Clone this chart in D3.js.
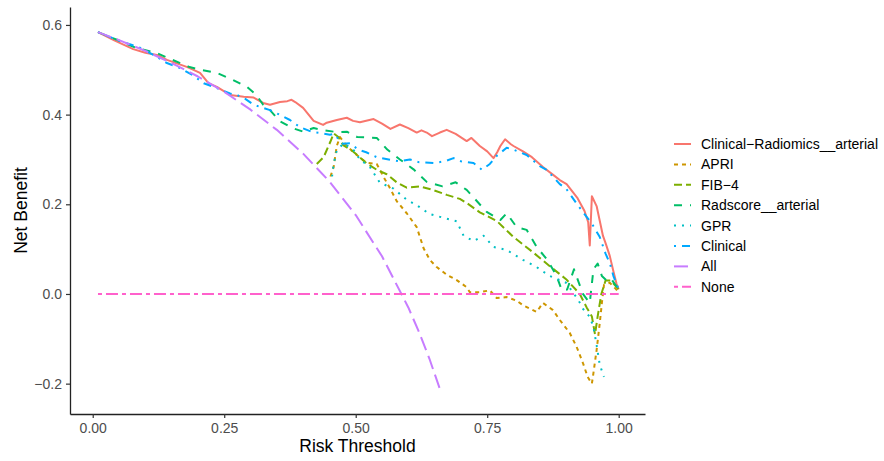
<!DOCTYPE html>
<html>
<head>
<meta charset="utf-8">
<script src="https://cdn.jsdelivr.net/npm/d3@7"></script>
<style>
  html, body { margin: 0; padding: 0; background: #fff; }
  svg { display: block; font-family: "Liberation Sans", Arial, Helvetica, sans-serif; }
</style>
</head>
<body>
<svg id="chart" width="884" height="461"></svg>
<script>
// Decision curve data: [risk threshold, net benefit]
const clinicalRadiomics = [
  [0.01,0.584],[0.04,0.566],[0.077,0.546],[0.10,0.538],[0.122,0.533],[0.141,0.522],[0.18,0.506],
  [0.204,0.493],[0.22,0.47],[0.236,0.462],[0.261,0.444],[0.287,0.44],[0.306,0.438],[0.324,0.426],
  [0.337,0.422],[0.356,0.428],[0.37,0.43],[0.378,0.433],[0.385,0.428],[0.40,0.415],[0.42,0.386],
  [0.438,0.377],[0.445,0.382],[0.464,0.388],[0.483,0.393],[0.495,0.386],[0.508,0.383],[0.534,0.39],
  [0.55,0.38],[0.566,0.368],[0.584,0.378],[0.60,0.37],[0.616,0.36],[0.625,0.365],[0.635,0.36],
  [0.645,0.352],[0.66,0.36],[0.673,0.366],[0.69,0.357],[0.711,0.341],[0.72,0.348],[0.736,0.33],
  [0.75,0.318],[0.762,0.303],[0.769,0.316],[0.775,0.33],[0.784,0.345],[0.795,0.334],[0.80,0.33],
  [0.818,0.318],[0.835,0.305],[0.856,0.283],[0.876,0.265],[0.888,0.254],[0.901,0.245],[0.921,0.215],
  [0.935,0.185],[0.942,0.16],[0.945,0.108],[0.949,0.218],[0.958,0.196],[0.97,0.13],[0.976,0.11],
  [0.983,0.085],[0.99,0.05],[0.996,0.022],[1.0,0.01]
];
const apri = [
  [0.452,0.262],[0.458,0.283],[0.464,0.33],[0.47,0.35],[0.483,0.33],[0.502,0.31],[0.52,0.293],
  [0.54,0.29],[0.553,0.261],[0.566,0.234],[0.578,0.207],[0.597,0.18],[0.616,0.149],[0.629,0.102],
  [0.641,0.076],[0.654,0.06],[0.673,0.043],[0.692,0.031],[0.711,0.015],[0.717,0.004],[0.736,0.004],
  [0.755,0.008],[0.768,-0.009],[0.787,-0.007],[0.806,-0.015],[0.818,-0.025],[0.844,-0.04],
  [0.856,-0.02],[0.875,-0.036],[0.888,-0.058],[0.907,-0.087],[0.92,-0.118],[0.932,-0.154],
  [0.941,-0.185],[0.949,-0.2],[0.952,-0.176],[0.958,-0.125],[0.964,-0.065],[0.968,-0.02],
  [0.972,0.02],[0.983,0.025],[0.993,0.013],[1.0,0.004]
];
const fib4 = [
  [0.426,0.29],[0.439,0.305],[0.452,0.34],[0.458,0.358],[0.467,0.35],[0.476,0.332],[0.495,0.318],
  [0.52,0.292],[0.54,0.277],[0.559,0.267],[0.578,0.249],[0.597,0.237],[0.622,0.24],[0.647,0.232],
  [0.673,0.221],[0.698,0.212],[0.711,0.203],[0.736,0.182],[0.768,0.163],[0.80,0.127],[0.837,0.093],
  [0.869,0.062],[0.9,0.033],[0.926,0.0],[0.939,-0.03],[0.949,-0.05],[0.955,-0.09],[0.96,-0.05],
  [0.967,0.0],[0.975,0.03],[0.985,0.03],[1.0,0.01]
];
const radscore = [
  [0.01,0.584],[0.046,0.567],[0.08,0.55],[0.122,0.537],[0.152,0.522],[0.184,0.506],[0.204,0.5],
  [0.236,0.493],[0.267,0.477],[0.293,0.462],[0.311,0.444],[0.324,0.422],[0.337,0.41],[0.356,0.385],
  [0.38,0.37],[0.40,0.362],[0.42,0.37],[0.44,0.365],[0.464,0.361],[0.483,0.362],[0.503,0.35],
  [0.54,0.348],[0.56,0.322],[0.584,0.3],[0.61,0.278],[0.635,0.25],[0.665,0.24],[0.69,0.249],
  [0.711,0.232],[0.749,0.183],[0.775,0.165],[0.787,0.18],[0.806,0.149],[0.825,0.143],[0.844,0.105],
  [0.865,0.075],[0.882,0.04],[0.892,0.008],[0.902,0.01],[0.915,0.055],[0.932,0.0],[0.945,-0.02],
  [0.952,0.055],[0.96,0.068],[0.968,0.04],[0.977,0.03],[0.985,0.035],[1.0,0.01]
];
const gpr = [
  [0.455,0.262],[0.458,0.29],[0.464,0.32],[0.477,0.336],[0.496,0.321],[0.508,0.3],[0.527,0.283],
  [0.546,0.248],[0.572,0.235],[0.597,0.21],[0.616,0.198],[0.641,0.178],[0.667,0.17],[0.692,0.162],
  [0.705,0.13],[0.724,0.118],[0.743,0.13],[0.762,0.105],[0.787,0.098],[0.818,0.076],[0.844,0.06],
  [0.869,0.04],[0.9,0.025],[0.923,-0.013],[0.932,-0.033],[0.945,-0.051],[0.952,-0.074],
  [0.958,-0.114],[0.964,-0.158],[0.972,-0.185]
];
const clinical = [
  [0.01,0.584],[0.05,0.565],[0.09,0.549],[0.12,0.53],[0.141,0.515],[0.166,0.504],[0.19,0.488],
  [0.211,0.47],[0.236,0.459],[0.261,0.447],[0.274,0.444],[0.29,0.435],[0.306,0.422],[0.337,0.41],
  [0.355,0.4],[0.375,0.388],[0.394,0.372],[0.418,0.361],[0.432,0.359],[0.451,0.355],[0.458,0.357],
  [0.476,0.335],[0.489,0.336],[0.505,0.322],[0.52,0.316],[0.54,0.305],[0.566,0.299],[0.585,0.296],
  [0.603,0.3],[0.62,0.294],[0.648,0.292],[0.67,0.296],[0.686,0.303],[0.70,0.296],[0.724,0.292],
  [0.74,0.277],[0.755,0.29],[0.768,0.308],[0.787,0.326],[0.80,0.322],[0.825,0.31],[0.85,0.285],
  [0.863,0.277],[0.888,0.245],[0.9,0.235],[0.921,0.2],[0.939,0.172],[0.95,0.155],[0.964,0.127],
  [0.975,0.09],[0.983,0.069],[0.99,0.04],[1.0,0.01]
];
const treatAll = [
  [0.01,0.584],[0.05,0.566],[0.10,0.542],[0.15,0.515],[0.20,0.485],[0.25,0.451],[0.30,0.411],
  [0.35,0.366],[0.40,0.313],[0.45,0.251],[0.50,0.176],[0.55,0.084],[0.60,-0.030],[0.62,-0.084],
  [0.64,-0.144],[0.66,-0.212],[0.663,-0.222]
];
const treatNone = [[0.01,0],[1.0,0]];

const seriesNames = ["Clinical\u2212Radiomics__arterial","APRI","FIB\u22124","Radscore__arterial","GPR","Clinical","All","None"];
const seriesData = [clinicalRadiomics, apri, fib4, radscore, gpr, clinical, treatAll, treatNone];
const xTicks = [0, 0.25, 0.5, 0.75, 1];
const yTicks = [-0.2, 0, 0.2, 0.4, 0.6];

// Styling (ggplot default hue palette and linetypes)
const colors = ["#F8766D","#CD9600","#7CAE00","#00BE67","#00BFC4","#00A9FF","#C77CFF","#FF61CC"];
const dashes = [null,"4,4","8,4","8,8","2,6","2,6,8,6","14,6","4,4,12,4"];

const svg = d3.select("#chart");
const x = d3.scaleLinear().domain([-0.0432, 1.05]).range([70, 645]);
const y = d3.scaleLinear().domain([-0.2677, 0.640]).range([414, 7]);

// Axes
const xAxis = svg.append("g").attr("transform","translate(0,414)")
  .call(d3.axisBottom(x).tickValues(xTicks).tickFormat(d3.format(".2f")).tickSize(4).tickSizeOuter(0).tickPadding(5));
const yAxis = svg.append("g").attr("transform","translate(70,0)")
  .call(d3.axisLeft(y).tickValues(yTicks).tickFormat(d3.format(".1f")).tickSize(4).tickSizeOuter(0).tickPadding(4));
[xAxis, yAxis].forEach(g => {
  g.select(".domain").attr("stroke","#222").attr("stroke-width",1.3);
  g.selectAll(".tick line").attr("stroke","#333").attr("stroke-width",1.2);
  g.selectAll(".tick text").attr("fill","#4D4D4D").style("font-size","14px")
    .style("font-family","'Liberation Sans', Arial, sans-serif");
});

// Curves
const line = d3.line().x(d => x(d[0])).y(d => y(d[1]));
const plot = svg.append("g");
seriesData.forEach((data, i) => {
  plot.append("path")
    .datum(data)
    .attr("d", line)
    .attr("fill","none")
    .attr("stroke", colors[i])
    .attr("stroke-width", 2)
    .attr("stroke-linejoin","round")
    .attr("stroke-dasharray", dashes[i]);
});

// Axis titles
svg.append("text").attr("x",357.5).attr("y",452).attr("text-anchor","middle")
  .style("font-size","17.5px").attr("fill","#000").text("Risk Threshold");
svg.append("text").attr("transform","translate(26.5,210.5) rotate(-90)").attr("text-anchor","middle")
  .style("font-size","17.5px").attr("fill","#000").text("Net Benefit");

// Legend
const legend = svg.append("g").attr("transform","translate(674,144)");
seriesNames.forEach((name, i) => {
  const row = legend.append("g").attr("transform",`translate(0,${i*20.4})`);
  row.append("line").attr("x1",0).attr("x2",17).attr("y1",0).attr("y2",0)
    .attr("stroke",colors[i]).attr("stroke-width",2).attr("stroke-dasharray",dashes[i]);
  row.append("text").attr("x",27).attr("y",0).attr("dy","0.36em")
    .style("font-size","14px").attr("fill","#000").text(name);
});
</script>
</body>
</html>
